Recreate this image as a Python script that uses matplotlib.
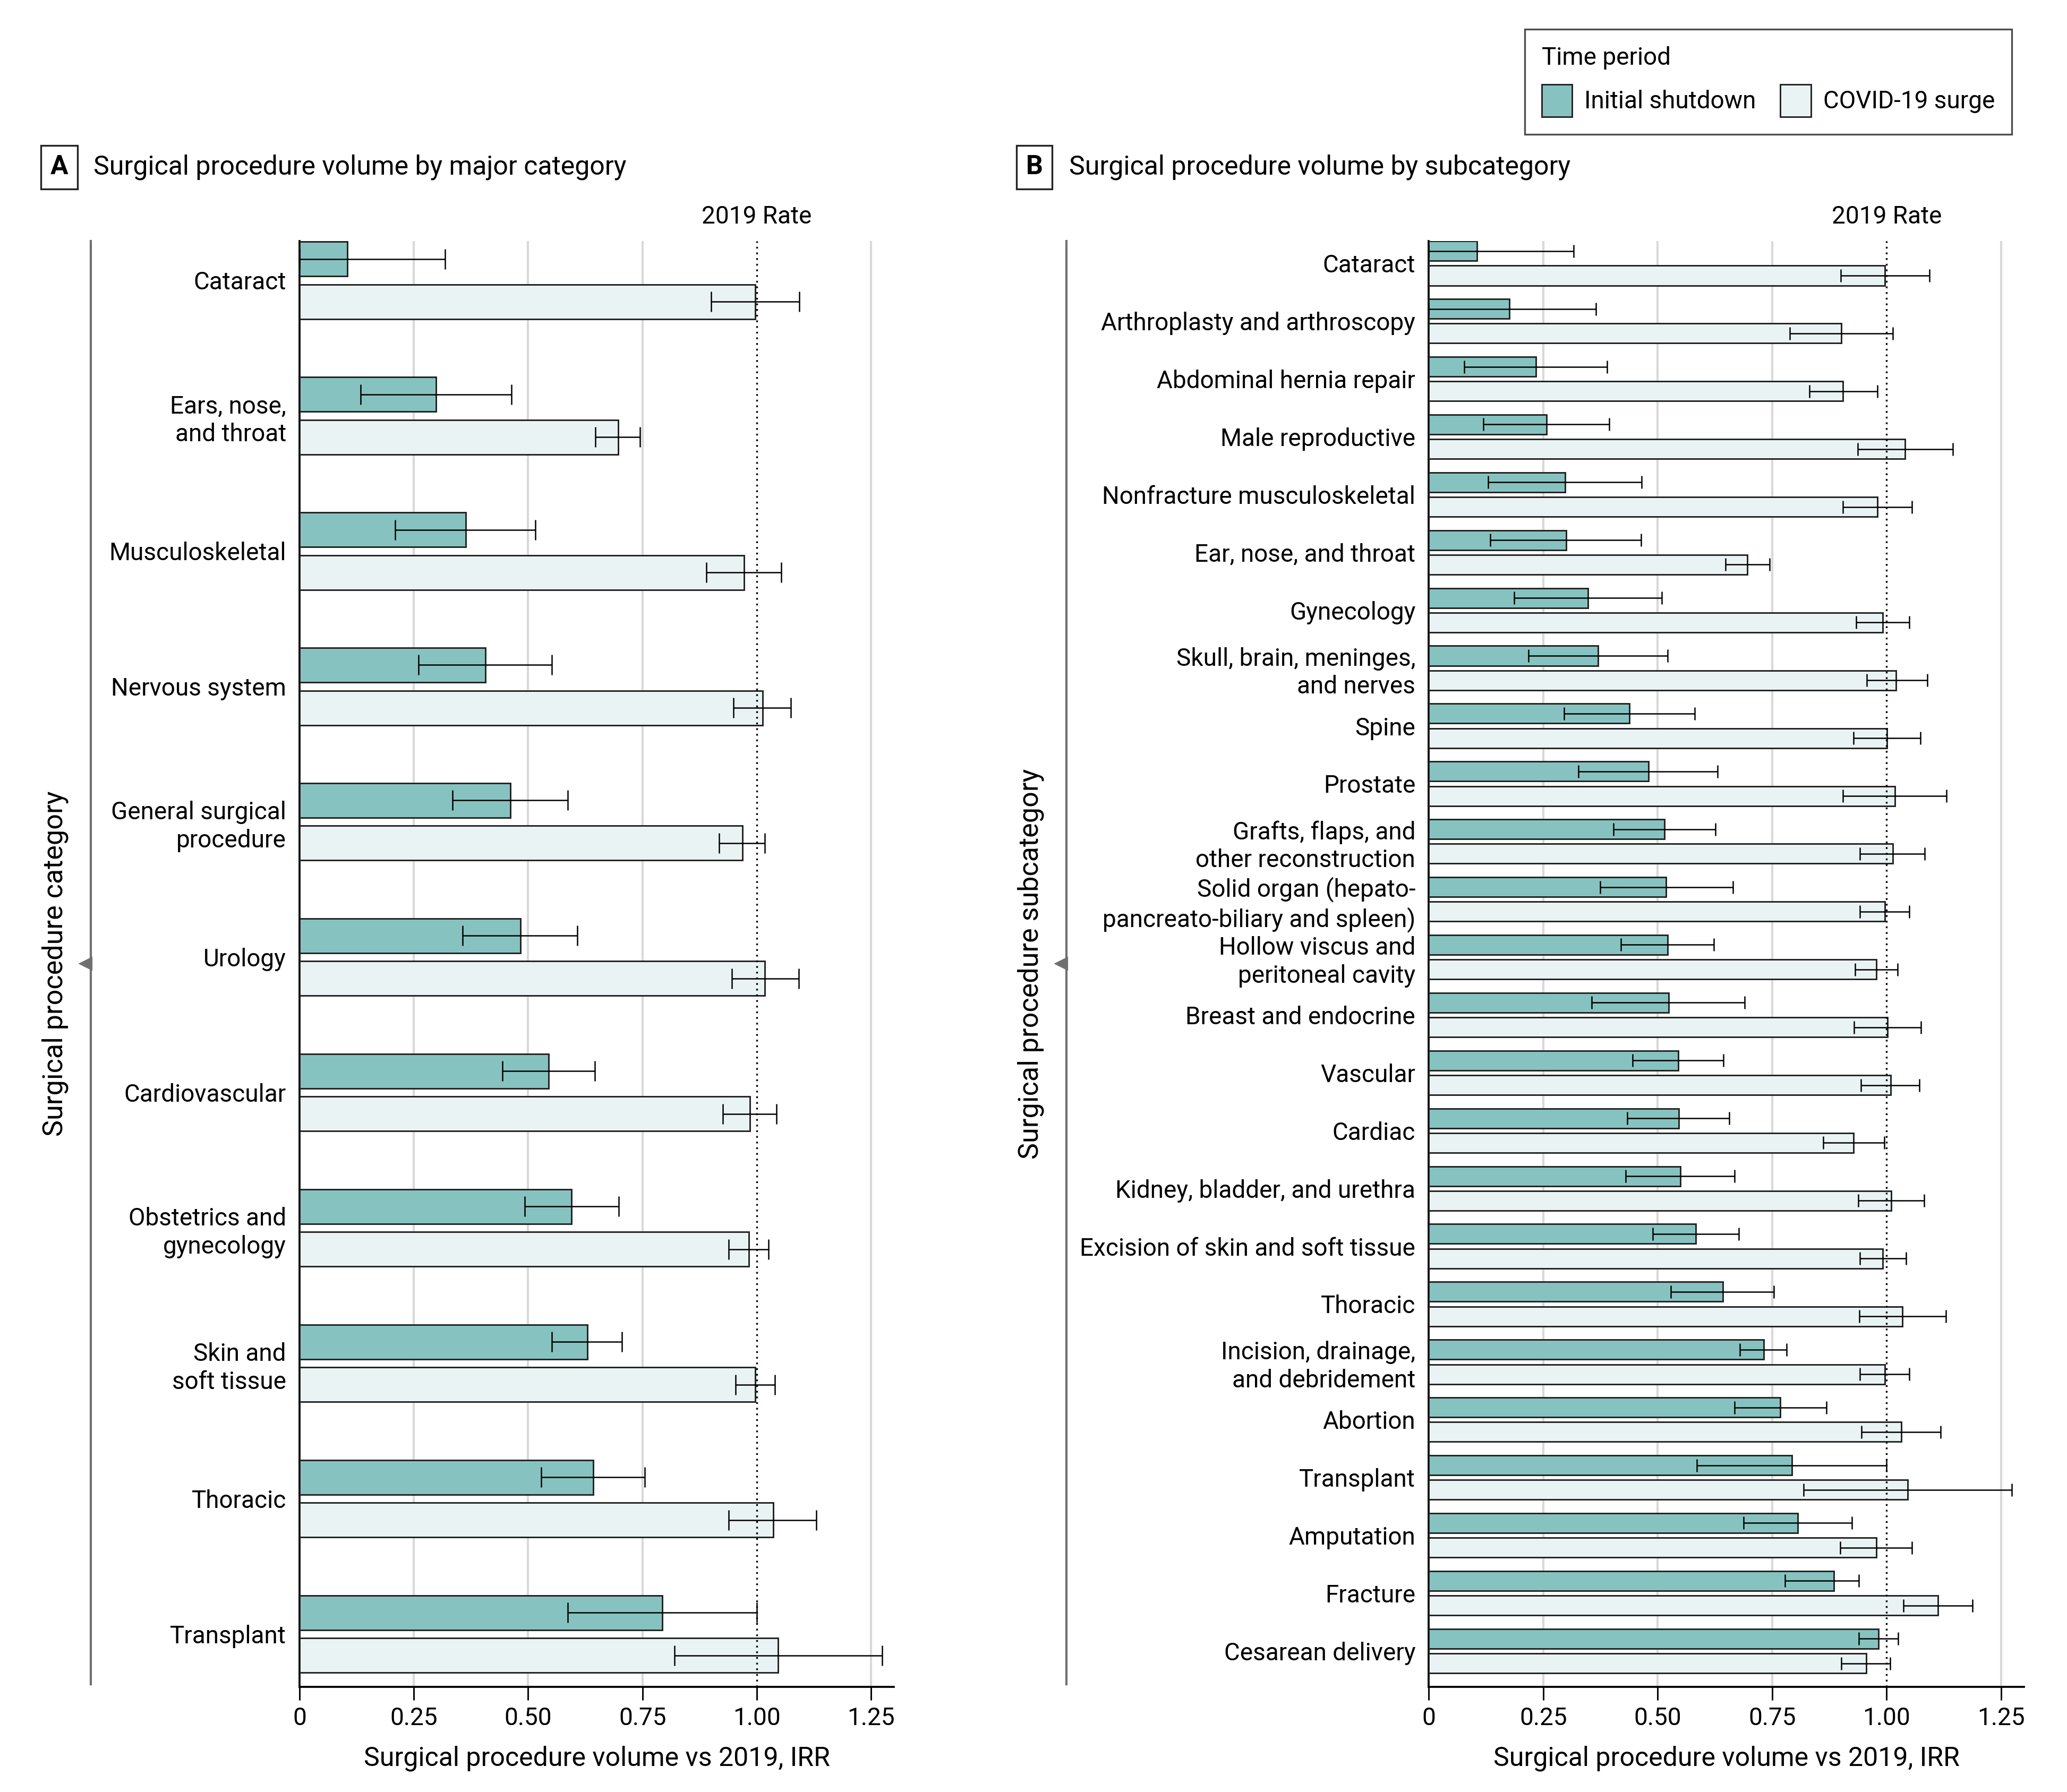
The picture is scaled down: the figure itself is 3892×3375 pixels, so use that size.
import matplotlib
matplotlib.use("Agg")
import numpy as np
import matplotlib.pyplot as plt
from matplotlib.lines import Line2D
from matplotlib.patches import Patch

plt.rcParams['font.family'] = ['Roboto', 'DejaVu Sans']

# Panel A: major categories (IRR vs 2019 with 95% CI)
cats_a = ["Cataract", "Ears, nose,\nand throat", "Musculoskeletal", "Nervous system",
          "General surgical\nprocedure", "Urology", "Cardiovascular",
          "Obstetrics and\ngynecology", "Skin and\nsoft tissue", "Thoracic", "Transplant"]
init_a = [0.105, 0.299, 0.363, 0.407, 0.461, 0.483, 0.545, 0.595, 0.629, 0.642, 0.793]
init_a_lo = [0.0, 0.134, 0.209, 0.260, 0.335, 0.357, 0.444, 0.492, 0.552, 0.528, 0.586]
init_a_hi = [0.318, 0.463, 0.516, 0.552, 0.587, 0.608, 0.646, 0.698, 0.705, 0.755, 1.000]
surge_a = [0.996, 0.697, 0.972, 1.013, 0.969, 1.018, 0.985, 0.983, 0.996, 1.036, 1.046]
surge_a_lo = [0.900, 0.647, 0.890, 0.949, 0.918, 0.945, 0.926, 0.939, 0.954, 0.939, 0.820]
surge_a_hi = [1.093, 0.745, 1.054, 1.074, 1.018, 1.092, 1.043, 1.025, 1.039, 1.130, 1.274]

# Panel B: subcategories
cats_b = ["Cataract", "Arthroplasty and arthroscopy", "Abdominal hernia repair",
          "Male reproductive", "Nonfracture musculoskeletal", "Ear, nose, and throat",
          "Gynecology", "Skull, brain, meninges,\nand nerves", "Spine", "Prostate",
          "Grafts, flaps, and\nother reconstruction",
          "Solid organ (hepato-\npancreato-biliary and spleen)",
          "Hollow viscus and\nperitoneal cavity", "Breast and endocrine", "Vascular",
          "Cardiac", "Kidney, bladder, and urethra", "Excision of skin and soft tissue",
          "Thoracic", "Incision, drainage,\nand debridement", "Abortion", "Transplant",
          "Amputation", "Fracture", "Cesarean delivery"]
init_b = [0.105, 0.176, 0.234, 0.257, 0.298, 0.300, 0.348, 0.370, 0.438, 0.480, 0.515,
          0.518, 0.522, 0.524, 0.545, 0.546, 0.549, 0.583, 0.642, 0.732, 0.768, 0.793,
          0.806, 0.885, 0.982]
init_b_lo = [0.0, 0.0, 0.077, 0.119, 0.130, 0.134, 0.187, 0.218, 0.296, 0.327, 0.404,
             0.375, 0.420, 0.356, 0.445, 0.434, 0.430, 0.489, 0.529, 0.680, 0.668, 0.585,
             0.688, 0.778, 0.939]
init_b_hi = [0.317, 0.365, 0.390, 0.394, 0.465, 0.464, 0.509, 0.522, 0.581, 0.631, 0.626,
             0.664, 0.623, 0.690, 0.643, 0.656, 0.668, 0.677, 0.754, 0.782, 0.868, 1.000,
             0.924, 0.939, 1.025]
surge_b = [0.996, 0.901, 0.905, 1.040, 0.980, 0.696, 0.991, 1.021, 1.001, 1.018, 1.013,
           0.996, 0.977, 1.002, 1.009, 0.928, 1.010, 0.992, 1.034, 0.996, 1.032, 1.046,
           0.977, 1.112, 0.955]
surge_b_lo = [0.900, 0.789, 0.831, 0.937, 0.904, 0.648, 0.933, 0.957, 0.928, 0.904, 0.941,
              0.941, 0.931, 0.929, 0.944, 0.861, 0.938, 0.941, 0.940, 0.941, 0.945, 0.819,
              0.899, 1.037, 0.901]
surge_b_hi = [1.093, 1.013, 0.980, 1.144, 1.055, 0.744, 1.050, 1.089, 1.074, 1.131, 1.083,
              1.049, 1.024, 1.075, 1.071, 0.995, 1.082, 1.043, 1.130, 1.050, 1.118, 1.273,
              1.055, 1.187, 1.008]

xticks = [0, 0.25, 0.50, 0.75, 1.00, 1.25]
xticklabels = ["0", "0.25", "0.50", "0.75", "1.00", "1.25"]

TEAL = '#86c3c0'
PALE = '#eaf3f4'
EDGE = '#222222'
GRID = '#d9d9d9'


def draw_panel(ax, cats, ini, ini_lo, ini_hi, sur, sur_lo, sur_hi, h, off, cap, ylim):
    y = np.arange(len(cats))
    ini, ini_lo, ini_hi = np.array(ini), np.array(ini_lo), np.array(ini_hi)
    sur, sur_lo, sur_hi = np.array(sur), np.array(sur_lo), np.array(sur_hi)
    for g in [0.25, 0.50, 0.75, 1.25]:
        ax.axvline(g, color=GRID, lw=1.0, zorder=1)
    ax.barh(y - off, ini, height=h, color=TEAL, edgecolor=EDGE, linewidth=0.7, zorder=3)
    ax.barh(y + off, sur, height=h, color=PALE, edgecolor=EDGE, linewidth=0.7, zorder=3)
    ax.errorbar(ini, y - off, xerr=[ini - ini_lo, ini_hi - ini], fmt='none', ecolor='black',
                elinewidth=0.6, capsize=cap, capthick=0.6, zorder=4)
    ax.errorbar(sur, y + off, xerr=[sur - sur_lo, sur_hi - sur], fmt='none', ecolor='black',
                elinewidth=0.6, capsize=cap, capthick=0.6, zorder=4)
    ax.axvline(1.0, color='black', linestyle=(0, (1, 2.2)), lw=0.8, zorder=5)
    ax.set_xlim(0, 1.30)
    ax.set_ylim(ylim)
    ax.set_yticks(y)
    ax.set_yticklabels(cats, linespacing=1.25)
    ax.tick_params(axis='y', length=0, pad=6, labelsize=11)
    ax.set_xticks(xticks)
    ax.set_xticklabels(xticklabels)
    ax.tick_params(axis='x', length=6, width=0.7, pad=3, labelsize=11)
    for s in ['top', 'right']:
        ax.spines[s].set_visible(False)
    ax.spines['left'].set_linewidth(0.9)
    ax.spines['bottom'].set_linewidth(0.9)
    ax.set_xlabel("Surgical procedure volume vs 2019, IRR", fontsize=12, labelpad=7)
    ax.annotate("2019 Rate", xy=(1.0, 1.0), xycoords=('data', 'axes fraction'),
                xytext=(0, 11), textcoords='offset points', ha='center', va='center',
                fontsize=11)


fig = plt.figure(figsize=(3892 / 300, 3375 / 300), dpi=300)
axA = fig.add_axes([0.1449, 0.0587, 0.2876, 0.8068])
axB = fig.add_axes([0.6912, 0.0587, 0.2880, 0.8068])

draw_panel(axA, cats_a, init_a, init_a_lo, init_a_hi, surge_a, surge_a_lo, surge_a_hi,
           h=0.255, off=0.158, cap=4.6, ylim=(10.39, -0.29))
draw_panel(axB, cats_b, init_b, init_b_lo, init_b_hi, surge_b, surge_b_lo, surge_b_hi,
           h=0.34, off=0.2125, cap=2.8, ylim=(24.62, -0.385))

# panel headings
for x_box, x_txt, letter, title in [(0.0286, 0.0452, 'A', 'Surgical procedure volume by major category'),
                                    (0.5005, 0.5172, 'B', 'Surgical procedure volume by subcategory')]:
    fig.text(x_box, 0.9067, letter, ha='center', va='center', fontsize=12, fontweight='bold',
             bbox=dict(boxstyle='square,pad=0.35', fc='white', ec=EDGE, lw=0.8))
    fig.text(x_txt, 0.9067, title, ha='left', va='center', fontsize=12)

# y-axis labels and bracket lines
for x_lab, x_line, lab in [(0.0267, 0.0439, 'Surgical procedure category'),
                           (0.4987, 0.5159, 'Surgical procedure subcategory')]:
    fig.text(x_lab, 0.4622, lab, rotation=90, ha='center', va='center', fontsize=12.5)
    fig.add_artist(Line2D([x_line, x_line], [0.0601, 0.8655], transform=fig.transFigure,
                          color='#707070', lw=1.0))
    fig.add_artist(Line2D([x_line - 0.0022], [0.4622], transform=fig.transFigure,
                          marker='<', markersize=5, color='#707070', lw=0))

# legend
handles = [Patch(facecolor=TEAL, edgecolor=EDGE, lw=0.7, label='Initial shutdown'),
           Patch(facecolor=PALE, edgecolor=EDGE, lw=0.7, label='COVID-19 surge')]
leg = fig.legend(handles=handles, title='Time period', loc='upper right',
                 bbox_to_anchor=(0.9733, 0.9837), borderaxespad=0, ncol=2, frameon=True,
                 fancybox=False, edgecolor=EDGE, fontsize=11, title_fontsize=11,
                 handlelength=1.25, handleheight=1.7, alignment='left', borderpad=0.7,
                 labelspacing=0.6, columnspacing=1.0, handletextpad=0.5)
leg.get_frame().set_linewidth(0.8)

fig.savefig('out.png', dpi=300)
